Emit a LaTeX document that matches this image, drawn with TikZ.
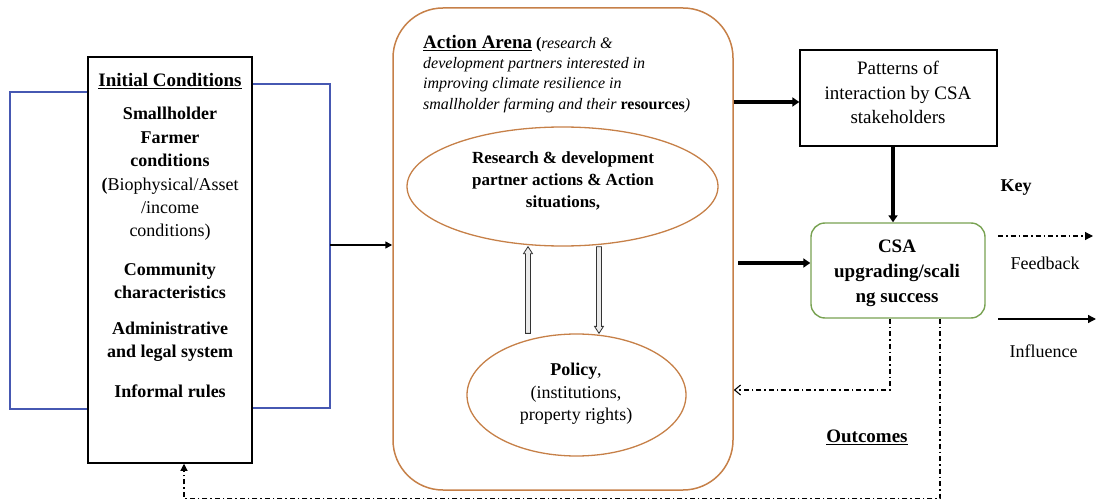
\documentclass[tikz,border=0pt]{standalone}
\usepackage{fontspec}
\setmainfont{LiberationSerif}[
  Extension=.ttf,
  UprightFont=*-Regular,
  BoldFont=*-Bold,
  ItalicFont=*-Italic,
  BoldItalicFont=*-BoldItalic]
\usetikzlibrary{arrows.meta,shapes.geometric,calc}

\definecolor{bracketblue}{RGB}{70,88,178}
\definecolor{arenaorange}{RGB}{198,128,72}
\definecolor{outgreen}{RGB}{120,162,82}

\begin{document}
\begin{tikzpicture}[x=1pt,y=-1pt,
  txt/.style={inner sep=0pt, align=center, font=\fontsize{18}{23.4}\selectfont},
  heavy/.style={line width=3.2pt, -{Triangle[length=7pt,width=9pt]}},
  thinarrow/.style={line width=1.5pt, -{Triangle[length=7pt,width=7pt]}},
  dashdot/.style={line width=1.1pt, dash pattern=on 5pt off 3pt on 1.5pt off 3pt},
  bracket/.style={draw=bracketblue, line width=1.8pt},
  hollow/.style={draw=black!80, line width=0.8pt, fill=black!8},
]
\useasboundingbox (0,0) rectangle (1096,500);

% ---- Initial conditions ----
\node[draw, line width=1.5pt, minimum width=164pt, minimum height=406pt, inner sep=0pt] (init) at (170,260) {};
\node[txt, font=\bfseries\fontsize{19}{23.4}\selectfont] (ic-title) at (170,81) {\underline{Initial Conditions}};
\node[txt] (ic-farm) at (170,174) {\textbf{Smallholder}\\\textbf{Farmer}\\\textbf{conditions}\\\textbf{(}Biophysical/Asset\\/income\\conditions)};
\node[txt, font=\bfseries\fontsize{18}{23}\selectfont] (ic-comm) at (170,281) {Community\\characteristics};
\node[txt, font=\bfseries\fontsize{18}{23}\selectfont] (ic-admin) at (170,342) {Administrative\\and legal system};
\node[txt, font=\bfseries\fontsize{18}{23}\selectfont] (ic-inf) at (170,391) {Informal rules};

% blue bracket round the initial conditions
\coordinate (blT) at (10,92);  \coordinate (blB) at (10,409);
\coordinate (brT) at (330,84); \coordinate (brB) at (330,408);
\coordinate (brM) at (330,245);
\draw[bracket] (init.west |- blT) -- (blT) -- (blB) -- (init.west |- blB);
\draw[bracket] (init.east |- brT) -- (brT) -- (brB) -- (init.east |- brB);

% ---- Action arena ----
\node[draw=arenaorange, line width=1.5pt, rounded corners=50pt, minimum width=340pt, minimum height=482pt, inner sep=0pt] (arena) at (563,249) {};
\node[anchor=north west, align=left, inner sep=0pt, font=\fontsize{16}{20.3}\selectfont] (aa-text) at (423,35)
  {{\fontsize{19}{20.3}\selectfont\bfseries\underline{Action Arena}} \textbf{(}\textit{research \&}\\
   \textit{development partners interested in}\\
   \textit{improving climate resilience in}\\
   \textit{smallholder farming and their} \textbf{resources}\textit{)}};

\draw[thinarrow] (brM) -- (arena.west |- brM);

\node[ellipse, draw=arenaorange, line width=1.3pt, minimum width=311pt, minimum height=119pt, inner sep=0pt] (rd) at (562.5,186.5) {};
\node[txt, font=\bfseries\fontsize{17}{22}\selectfont] (rd-text) at (563,181) {Research \& development\\partner actions \& Action\\situations,};

\node[ellipse, draw=arenaorange, line width=1.3pt, minimum width=219pt, minimum height=122pt, inner sep=0pt] (pol) at (576.5,395) {};
\node[txt, font=\fontsize{18}{22.5}\selectfont] (pol-text) at (576,394) {\textbf{Policy},\\(institutions,\\property rights)};

% hollow arrows between the two ellipses
\coordinate (upx) at (528,0); \coordinate (dnx) at (599,0);
\coordinate (upT) at (pol.north -| upx); \coordinate (upH) at (rd.south -| upx);
\coordinate (dnT) at (rd.south -| dnx);  \coordinate (dnH) at (pol.north -| dnx);
\draw[hollow] ($(upT)+(-2.5,0)$) -- ($(upH)+(-2.5,7)$) -- ($(upH)+(-4.5,7)$) -- (upH)
  -- ($(upH)+(4.5,7)$) -- ($(upH)+(2.5,7)$) -- ($(upT)+(2.5,0)$) -- cycle;
\draw[hollow] ($(dnT)+(-2.5,0)$) -- ($(dnH)+(-2.5,-7)$) -- ($(dnH)+(-4.5,-7)$) -- (dnH)
  -- ($(dnH)+(4.5,-7)$) -- ($(dnH)+(2.5,-7)$) -- ($(dnT)+(2.5,0)$) -- cycle;

% ---- Patterns of interaction ----
\node[draw, line width=1.4pt, minimum width=197pt, minimum height=96pt, inner sep=0pt] (pat) at (898.5,98) {};
\node[txt, font=\fontsize{19}{24.5}\selectfont] (pat-text) at (898,92.5) {Patterns of\\interaction by CSA\\stakeholders};
\coordinate (aaOut) at (733,102);
\draw[heavy] (arena.east |- aaOut) -- (pat.west |- aaOut);

% ---- Outcome box ----
\node[draw=outgreen, line width=1.4pt, rounded corners=14pt, minimum width=174pt, minimum height=95pt, inner sep=0pt] (csa) at (898,270.5) {};
\node[txt, font=\bfseries\fontsize{19}{25}\selectfont] (csa-text) at (897,273) {CSA\\upgrading/scali\\ng success};
\coordinate (patDn) at (893,0);
\draw[heavy] (pat.south -| patDn) -- (csa.north -| patDn);
\coordinate (csaIn) at (738,263);
\draw[heavy] (csaIn) -- (csa.west |- csaIn);

% feedback loops
\coordinate (fbx) at (890,0); \coordinate (fbTurn) at (890,390);
\draw[dashdot, -{Straight Barb[length=6pt,width=10pt]}] (csa.south -| fbx) -- (fbTurn) -- (arena.east |- fbTurn);
\coordinate (fb2x) at (940,0); \coordinate (fb2Turn) at (940,498.5); \coordinate (fb2Corner) at (184,498.5);
\draw[dashdot, -{Triangle[length=7pt,width=7pt]}] (csa.south -| fb2x) -- (fb2Turn) -- (fb2Corner) -- (init.south -| fb2Corner);

\node[txt, font=\bfseries\fontsize{19}{22}\selectfont] (outcomes) at (867,437) {\underline{Outcomes}};

% ---- Key ----
\node[txt, font=\bfseries\fontsize{18}{22}\selectfont] (key) at (1016,188) {Key};
\coordinate (fbL1) at (998,236); \coordinate (fbL2) at (1093,236);
\draw[dashdot, -{Triangle[length=8pt,width=8pt]}] (fbL1) -- (fbL2);
\node[txt] (fb-label) at (1045,263) {Feedback};
\coordinate (inL1) at (998,319); \coordinate (inL2) at (1096,319);
\draw[line width=1.4pt, -{Triangle[length=8pt,width=8pt]}] (inL1) -- (inL2);
\node[txt] (in-label) at (1043.5,351) {Influence};

\end{tikzpicture}
\end{document}
